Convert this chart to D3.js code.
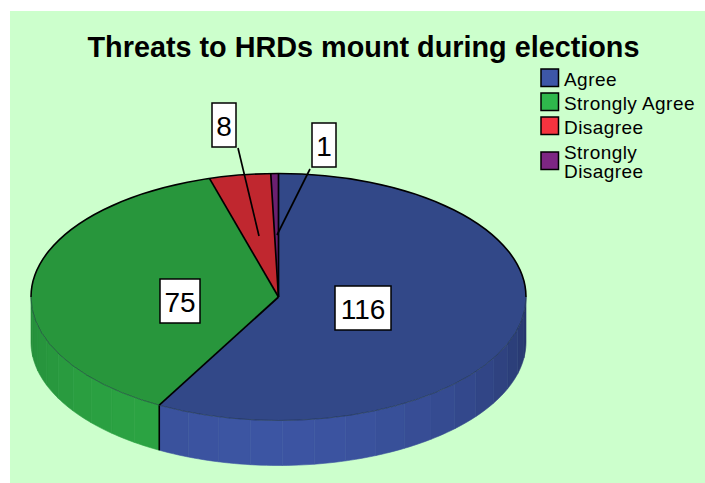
<!DOCTYPE html>
<html><head><meta charset="utf-8">
<script src="https://cdn.jsdelivr.net/npm/d3@7"></script>
<style>html,body{margin:0;padding:0;background:#fff}svg{display:block}</style>
</head><body><svg id="c" width="705" height="483"></svg>
<script>
const categories = ["Agree","Strongly Agree","Disagree","Strongly Disagree"];
const values = [116,75,8,1];
const topColors = ["#324888","#28963c","#c0272f","#6b2070"];
const swatchColors = ["#3d57a8","#2fb84c","#f5333f","#7d2683"];
const sideLight = ["#3c55a3","#2ba342","#c0272f","#6b2070"];
const sideDark = ["#27376c","#1f7832","#c0272f","#6b2070"];
const title = "Threats to HRDs mount during elections";
const labelAnchors = [[363,308],[180,301],[224,125],[324,145]];
const leaderEnds = [null,null,[[238,148],[259,236]],[[310,169],[277,235]]];

const cx=278.5, cy=297, rx=247.5, ry=123.5, depth=45;
const svg=d3.select("#c");
svg.append("rect").attr("x",10).attr("y",11).attr("width",695).attr("height",472).attr("fill","#ccffcc");
svg.append("text").attr("x",363.5).attr("y",57).attr("text-anchor","middle")
  .attr("font-family","Liberation Sans").attr("font-weight","bold").attr("font-size",28.8).attr("fill","#000").text(title);

const pie=d3.pie().sort(null).value(d=>d)(values);
const px=a=>cx+rx*Math.sin(a), py=a=>cy-ry*Math.cos(a);

const bandCentre=[Math.PI*1.02,Math.PI*1.16,Math.PI,Math.PI];
const bandStep=Math.PI/24;
const side=svg.append("g");
const line=d3.line();
pie.forEach((d,i)=>{
  const lo=Math.max(d.startAngle,Math.PI/2), hi=Math.min(d.endAngle,Math.PI*1.5);
  if(hi<=lo) return;
  const bandsN=Math.ceil((hi-lo)/bandStep);
  d3.range(bandsN).forEach(k=>{
    const a0=lo+(hi-lo)*k/bandsN, a1=lo+(hi-lo)*(k+1)/bandsN;
    const am=(a0+a1)/2;
    const t=Math.min(1,Math.pow(Math.abs(am-bandCentre[i])/(Math.PI*0.5),1.6));
    const pts=d3.range(0,7).map(j=>a0+(a1-a0)*j/6);
    const path=pts.map(a=>[px(a),py(a)]).concat(pts.slice().reverse().map(a=>[px(a),py(a)+depth]));
    const col=d3.interpolateRgb(sideLight[i],sideDark[i])(t);
    side.append("path").attr("d",line(path)+"Z").attr("fill",col).attr("stroke",col).attr("stroke-width",0.6);
  });
});
pie.forEach(d=>{
  const a=d.endAngle;
  if(a>Math.PI/2 && a<Math.PI*1.5)
    side.append("line").attr("x1",px(a)).attr("x2",px(a)).attr("y1",py(a)).attr("y2",py(a)+depth)
      .attr("stroke","#000").attr("stroke-width",1.6);
});

const arc=d3.arc().innerRadius(0).outerRadius(rx);
const disc=svg.append("g").attr("transform",`translate(${cx},${cy}) scale(1,${ry/rx})`);
disc.selectAll("path").data(pie).join("path").attr("d",arc)
  .attr("fill",(d,i)=>topColors[i]).attr("stroke","none");
const rimBack=d3.arc().innerRadius(rx).outerRadius(rx).startAngle(-Math.PI/2).endAngle(Math.PI/2);
const rimFront=d3.arc().innerRadius(rx).outerRadius(rx).startAngle(Math.PI/2).endAngle(Math.PI*1.5);
disc.append("path").attr("d",rimFront()).attr("fill","none").attr("stroke","#1a2a40").attr("stroke-opacity",0.6)
  .attr("stroke-width",0.5).attr("vector-effect","non-scaling-stroke");
disc.append("path").attr("d",rimBack()).attr("fill","none").attr("stroke","#000")
  .attr("stroke-width",1.6).attr("vector-effect","non-scaling-stroke");
pie.forEach(d=>{
  svg.append("line").attr("x1",cx).attr("y1",cy).attr("x2",px(d.startAngle)).attr("y2",py(d.startAngle))
    .attr("stroke","#000").attr("stroke-width",1.7);
});

leaderEnds.forEach(l=>{ if(l) svg.append("line").attr("x1",l[0][0]).attr("y1",l[0][1]).attr("x2",l[1][0]).attr("y2",l[1][1]).attr("stroke","#000").attr("stroke-width",1.7); });
values.forEach((v,i)=>{
  const g=svg.append("g").attr("transform",`translate(${labelAnchors[i][0]},${labelAnchors[i][1]})`);
  const w=String(v).length*16+8, h=44;
  g.append("rect").attr("x",-w/2).attr("y",-h/2).attr("width",w).attr("height",h).attr("fill","#fff").attr("stroke","#000").attr("stroke-width",1.5);
  g.append("text").attr("y",10.5).attr("text-anchor","middle").attr("font-family","Liberation Sans").attr("font-size",28).attr("fill","#000").text(v);
});

const swatchTop=[69,93,117,152];
const legBase=[[86],[110],[134],[159,178]];
const legLines=[["Agree"],["Strongly Agree"],["Disagree"],["Strongly","Disagree"]];
categories.forEach((c,i)=>{
  svg.append("rect").attr("x",541).attr("y",swatchTop[i]).attr("width",17.5).attr("height",17.5)
    .attr("fill",swatchColors[i]).attr("stroke","#000").attr("stroke-width",1.5);
  const t=svg.append("text").attr("font-family","Liberation Sans").attr("font-size",19).attr("letter-spacing",0.45).attr("fill","#000");
  legLines[i].forEach((s,k)=>{
    t.append("tspan").attr("x",564).attr("y",legBase[i][k]).text(s);
  });
});
</script></body></html>
